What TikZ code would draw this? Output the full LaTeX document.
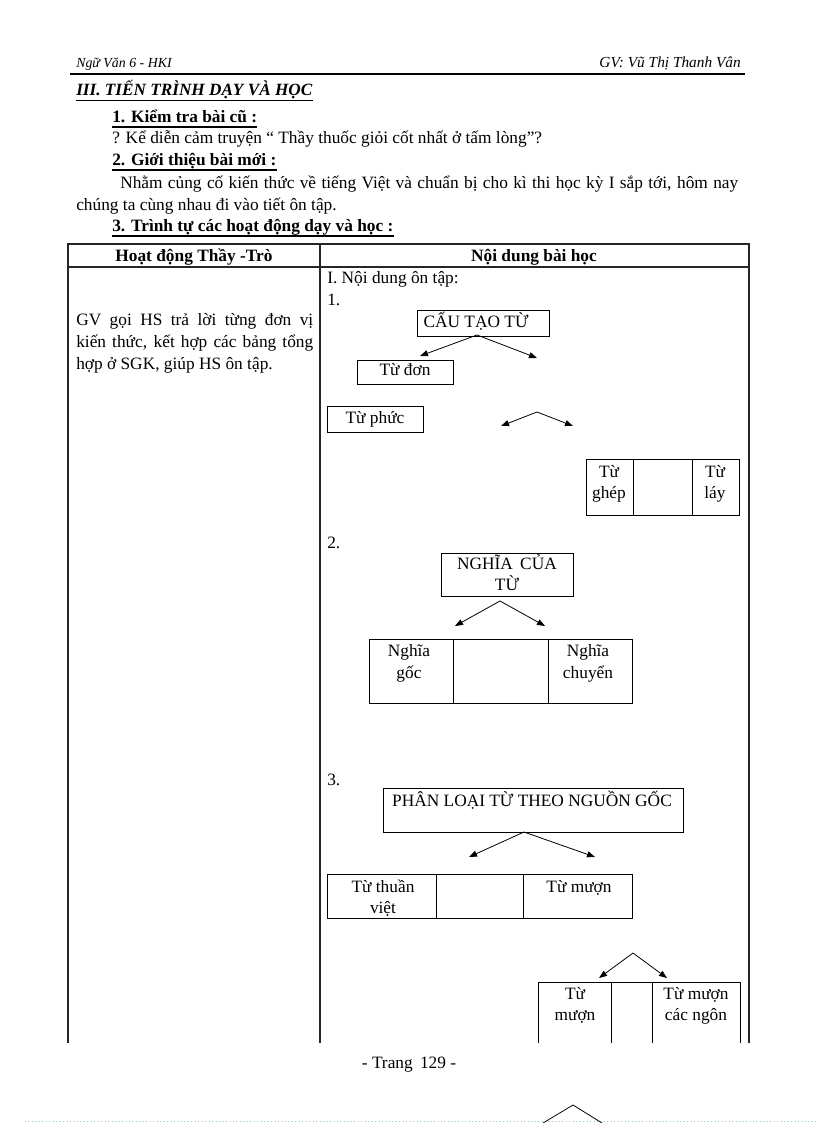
\documentclass[tikz,border=0pt]{standalone}
\usepackage{fontspec}
\setmainfont{Liberation Serif}
\usetikzlibrary{arrows.meta,fit}
\begin{document}
\begin{tikzpicture}[x=0.75pt,y=-0.75pt,
  font=\fontsize{13}{15}\selectfont,
  txt/.style={inner sep=0pt, anchor=base west},
  ctxt/.style={inner sep=0pt, anchor=base},
  box/.style={draw, line width=0.75pt, inner sep=0pt},
  tbl/.style={draw=black!85, line width=0.8pt},
  arr/.style={-{Triangle[length=6pt,width=4.5pt]}, line width=0.6pt},
  uline/.style={line width=0.8pt},
  hd/.style={font=\fontsize{13}{15}\selectfont\bfseries}]
\useasboundingbox (0,0) rectangle (816,1123);
\fill[white] (0,0) rectangle (816,1123);

% page header
\node[txt, font=\fontsize{10.4}{14}\selectfont\itshape] (hl) at (76,68) {Ngữ Văn 6 - HKI};
\node[inner sep=0pt, anchor=base east, font=\fontsize{11.5}{14}\selectfont\itshape] (hr) at (741,68) {GV: Vũ Thị Thanh Vân};
\coordinate (hlineL) at (70,74);
\coordinate (hlineR) at (745,74);
\draw[line width=0.8pt] (hlineL) -- (hlineR);

% headings
\node[txt, font=\fontsize{12.9}{15}\selectfont\bfseries\itshape] (h3) at (76,96) {III. TIẾN TRÌNH  DẠY VÀ HỌC};
\draw[uline] ([yshift=-3.5pt]h3.base west) -- ([yshift=-3.5pt]h3.base east);
\node[txt, hd] (k1) at (112,123) {1. Kiểm tra bài cũ :};
\draw[uline] ([yshift=-3pt]k1.base west) -- ([yshift=-3pt]k1.base east);
\node[txt] (q1) at (112,144) {? Kể diễn cảm truyện “ Thầy thuốc giỏi cốt nhất ở tấm lòng”?};
\node[txt, hd] (k2) at (112,166) {2. Giới thiệu bài mới :};
\draw[uline] ([yshift=-3pt]k2.base west) -- ([yshift=-3pt]k2.base east);
\node[txt] (p1) at (120,189) {\makebox[463.5pt][s]{Nhằm củng cố kiến thức về tiếng Việt và chuẩn bị cho kì thi học kỳ I sắp tới, hôm nay}};
\node[txt] (p2) at (76,210) {chúng ta cùng nhau đi vào tiết ôn tập.};
\node[txt, hd] (k3) at (112,232) {3. Trình tự các hoạt động dạy và học :};
\draw[uline] ([yshift=-3pt]k3.base west) -- ([yshift=-3pt]k3.base east);

% table
\coordinate (tTL) at (68,244);
\coordinate (tTR) at (749,244);
\coordinate (tHL) at (68,267);
\coordinate (tHR) at (749,267);
\coordinate (tBL) at (68,1043);
\coordinate (tBR) at (749,1043);
\coordinate (tMT) at (320,244);
\coordinate (tMB) at (320,1043);
\draw[tbl] (tBL) -- (tTL) -- (tTR) -- (tBR);
\draw[tbl] (tHL) -- (tHR);
\draw[tbl] (tMT) -- (tMB);
\node[ctxt, hd] (th1) at (194,261) {Hoạt động Thầy -Trò};
\node[ctxt, hd] (th2) at (534,261) {Nội dung bài học};

% left column
\node[txt] (g1) at (76,325) {\makebox[177.75pt][s]{GV gọi HS trả lời từng đơn vị}};
\node[txt] (g2) at (76,347) {\makebox[177.75pt][s]{kiến thức, kết hợp các bảng tổng}};
\node[txt] (g3) at (76,369) {hợp ở SGK, giúp HS ôn tập.};

% right column
\node[txt] (r0) at (327,283) {I. Nội dung ôn tập:};
\node[txt] (r1) at (327,305) {1.};

% diagram 1
\node[box, fit={(417,310) (549,336)}] (cau) {};
\node[ctxt] (caut) at (476,327) {CẤU TẠO TỪ};
\coordinate (a1) at (477,335);
\coordinate (a1l) at (420,356);
\coordinate (a1r) at (537,358);
\draw[arr] (a1) -- (a1l);
\draw[arr] (a1) -- (a1r);
\node[box, fit={(357,360) (453,384)}] (don) {};
\node[ctxt] (dont) at (405,375) {Từ đơn};
\node[box, fit={(327,406) (423,432)}] (phuc) {};
\node[ctxt] (phuct) at (375,423) {Từ phức};
\coordinate (a2) at (537,412);
\coordinate (a2l) at (501,426);
\coordinate (a2r) at (573,426);
\draw[arr] (a2) -- (a2l);
\draw[arr] (a2) -- (a2r);
\node[box, fit={(586,459) (633,515)}] (c11) {};
\node[box, fit={(633,459) (692,515)}] (c12) {};
\node[box, fit={(692,459) (739,515)}] (c13) {};
\node[ctxt] (c11a) at (609,477) {Từ};
\node[ctxt] (c11b) at (609,498) {ghép};
\node[ctxt] (c13a) at (715,477) {Từ};
\node[ctxt] (c13b) at (715,498) {láy};

% diagram 2
\node[txt] (r2) at (327,548) {2.};
\node[box, fit={(441,553) (573,596)}] (nghia) {};
\node[ctxt] (nghiaa) at (507,569) {NGHĨA \,CỦA};
\node[ctxt] (nghiab) at (507,590) {TỪ};
\coordinate (a3) at (500,601);
\coordinate (a3l) at (455,626);
\coordinate (a3r) at (545,626);
\draw[arr] (a3) -- (a3l);
\draw[arr] (a3) -- (a3r);
\node[box, fit={(369,639) (453,703)}] (c21) {};
\node[box, fit={(453,639) (548,703)}] (c22) {};
\node[box, fit={(548,639) (632,703)}] (c23) {};
\node[ctxt] (c21a) at (409,656) {Nghĩa};
\node[ctxt] (c21b) at (409,678) {gốc};
\node[ctxt] (c23a) at (588,656) {Nghĩa};
\node[ctxt] (c23b) at (588,678) {chuyển};

% diagram 3
\node[txt] (r3) at (327,785) {3.};
\node[box, fit={(383,788) (683,832)}] (phan) {};
\node[ctxt] (phant) at (532,806) {PHÂN LOẠI TỪ THEO NGUỒN GỐC};
\coordinate (a4) at (524,832);
\coordinate (a4l) at (469,857);
\coordinate (a4r) at (595,857);
\draw[arr] (a4) -- (a4l);
\draw[arr] (a4) -- (a4r);
\node[box, fit={(327,874) (436,918)}] (c31) {};
\node[box, fit={(436,874) (523,918)}] (c32) {};
\node[box, fit={(523,874) (632,918)}] (c33) {};
\node[ctxt] (c31a) at (383,892) {Từ thuần};
\node[ctxt] (c31b) at (383,913) {việt};
\node[ctxt] (c33a) at (579,892) {Từ mượn};

% diagram 4 (cut at page end)
\coordinate (a5) at (633,953);
\coordinate (a5l) at (599,978);
\coordinate (a5r) at (667,978);
\draw[arr] (a5) -- (a5l);
\draw[arr] (a5) -- (a5r);
\coordinate (d4a) at (538,1043);
\coordinate (d4b) at (538,982);
\coordinate (d4c) at (740,982);
\coordinate (d4d) at (740,1043);
\coordinate (d4e) at (611,982);
\coordinate (d4f) at (611,1043);
\coordinate (d4g) at (652,982);
\coordinate (d4h) at (652,1043);
\draw[line width=0.75pt] (d4a) -- (d4b) -- (d4c) -- (d4d);
\draw[line width=0.75pt] (d4e) -- (d4f);
\draw[line width=0.75pt] (d4g) -- (d4h);
\node[ctxt] (c41a) at (575,999) {Từ};
\node[ctxt] (c41b) at (575,1020) {mượn};
\node[ctxt] (c43a) at (696,999) {Từ mượn};
\node[ctxt] (c43b) at (696,1020) {các ngôn};

% footer
\node[ctxt] (trang) at (409,1068) {- Trang \,129 -};
\coordinate (pbL) at (25,1121);
\coordinate (pbR) at (816,1121);
\draw[green!40!gray!60, dotted, line width=0.6pt] (pbL) -- (pbR);
\coordinate (n1) at (573,1105);
\coordinate (n1l) at (543,1123);
\coordinate (n1r) at (602,1123);
\draw[line width=0.6pt] (n1l) -- (n1) -- (n1r);
\end{tikzpicture}
\end{document}
